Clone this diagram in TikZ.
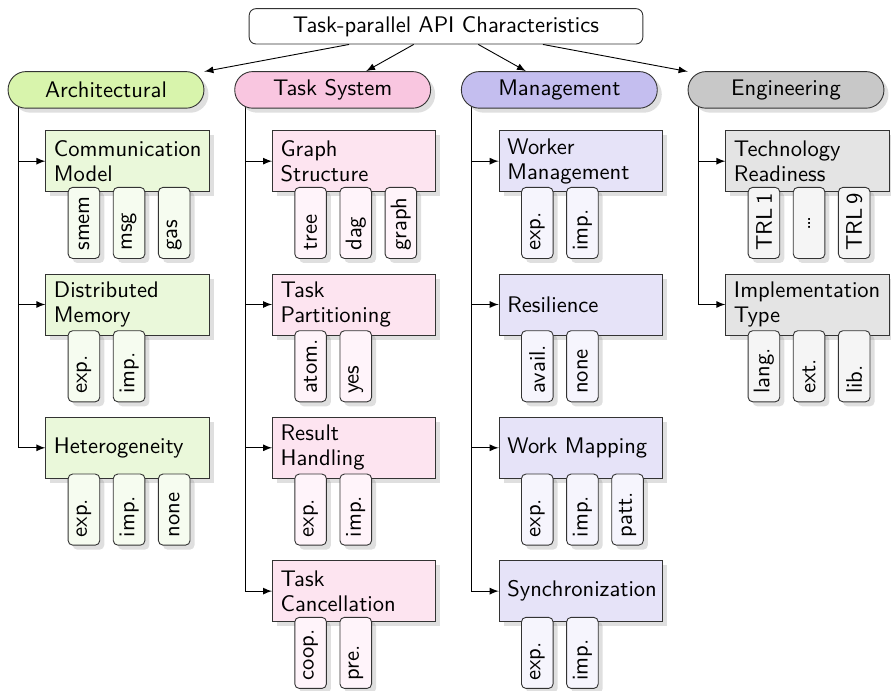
\documentclass[tikz,border=0pt]{standalone}
\usepackage{fontspec}
\usetikzlibrary{shadows,backgrounds}
\definecolor{archC}{HTML}{D8F4AC}
\definecolor{archF}{HTML}{EAF8DA}
\definecolor{archL}{HTML}{F6FCF0}
\definecolor{taskC}{HTML}{F9C6E0}
\definecolor{taskF}{HTML}{FDE4F0}
\definecolor{taskL}{HTML}{FFF4FA}
\definecolor{mgmtC}{HTML}{C4BEEF}
\definecolor{mgmtF}{HTML}{E6E3F8}
\definecolor{mgmtL}{HTML}{F6F5FD}
\definecolor{engC}{HTML}{C8C8C8}
\definecolor{engF}{HTML}{E4E4E4}
\definecolor{engL}{HTML}{F5F5F5}

\begin{document}
\begin{tikzpicture}[>=latex, font=\sffamily, node distance=2.232cm,
    shade/.style={drop shadow={shadow xshift=2pt, shadow yshift=-2pt, opacity=0.25}},
    root/.style={draw=black!80, rounded corners=3pt, minimum width=6.13cm, minimum height=0.53cm},
    cat/.style={draw=black!80, rounded corners=0.28cm, minimum width=3.05cm, minimum height=0.57cm, shade},
    feat/.style={draw=black!80, align=left, text width=2.29cm, inner xsep=3.6pt, minimum height=0.95cm,
      font=\sffamily\fontsize{10}{11}\selectfont, shade},
    leaf/.style={draw=black!80, rounded corners=2pt, rotate=90, align=left, text width=24.5pt,
      inner xsep=3.5pt, inner ysep=1pt, minimum height=14pt, shade},]
  \useasboundingbox (-6.946,0.41) rectangle (6.93,-10.336);
  \node[root] (root) at (0,0) {Task-parallel API Characteristics};
  \node[cat, fill=archC] (arch) at (-5.295,-0.99) {Architectural};
  \node[cat, fill=taskC] (tasks) at (-1.765,-0.99) {Task System};
  \node[cat, fill=mgmtC] (mgmt) at (1.765,-0.99) {Management};
  \node[cat, fill=engC] (eng) at (5.295,-0.99) {Engineering};
  \foreach \c in {arch,tasks,mgmt,eng}
    \draw[->] (root) -- (\c);

  \node[feat, fill=archF, below of=arch, xshift=0.335cm, node distance=1.11cm] (comm) {Communication\\Model};
  \node[feat, fill=archF, below of=comm] (distmem) {Distributed\\Memory};
  \node[feat, fill=archF, below of=distmem] (hetero) {Heterogeneity};
  \foreach \t [count=\i] in {smem,msg,gas}
    \node[leaf, fill=archL] (comm-\i) at ([shift={({0.703*\i-0.103},-0.48)}]comm.south west) {\t};
  \foreach \t [count=\i] in {exp.,imp.}
    \node[leaf, fill=archL] (distmem-\i) at ([shift={({0.703*\i-0.103},-0.48)}]distmem.south west) {\t};
  \foreach \t [count=\i] in {exp.,imp.,none}
    \node[leaf, fill=archL] (hetero-\i) at ([shift={({0.703*\i-0.103},-0.48)}]hetero.south west) {\t};

  \node[feat, fill=taskF, below of=tasks, xshift=0.335cm, node distance=1.11cm] (graph) {Graph\\Structure};
  \node[feat, fill=taskF, below of=graph] (part) {Task\\Partitioning};
  \node[feat, fill=taskF, below of=part] (result) {Result\\Handling};
  \node[feat, fill=taskF, below of=result] (cancel) {Task\\Cancellation};
  \foreach \t [count=\i] in {tree,dag,graph}
    \node[leaf, fill=taskL] (graph-\i) at ([shift={({0.703*\i-0.103},-0.48)}]graph.south west) {\t};
  \foreach \t [count=\i] in {atom.,yes}
    \node[leaf, fill=taskL] (part-\i) at ([shift={({0.703*\i-0.103},-0.48)}]part.south west) {\t};
  \foreach \t [count=\i] in {exp.,imp.}
    \node[leaf, fill=taskL] (result-\i) at ([shift={({0.703*\i-0.103},-0.48)}]result.south west) {\t};
  \foreach \t [count=\i] in {coop.,pre.}
    \node[leaf, fill=taskL] (cancel-\i) at ([shift={({0.703*\i-0.103},-0.48)}]cancel.south west) {\t};

  \node[feat, fill=mgmtF, below of=mgmt, xshift=0.335cm, node distance=1.11cm] (worker) {Worker\\Management};
  \node[feat, fill=mgmtF, below of=worker] (resil) {Resilience};
  \node[feat, fill=mgmtF, below of=resil] (mapping) {Work Mapping};
  \node[feat, fill=mgmtF, below of=mapping] (sync) {Synchronization};
  \foreach \t [count=\i] in {exp.,imp.}
    \node[leaf, fill=mgmtL] (worker-\i) at ([shift={({0.703*\i-0.103},-0.48)}]worker.south west) {\t};
  \foreach \t [count=\i] in {avail.,none}
    \node[leaf, fill=mgmtL] (resil-\i) at ([shift={({0.703*\i-0.103},-0.48)}]resil.south west) {\t};
  \foreach \t [count=\i] in {exp.,imp.,patt.}
    \node[leaf, fill=mgmtL] (mapping-\i) at ([shift={({0.703*\i-0.103},-0.48)}]mapping.south west) {\t};
  \foreach \t [count=\i] in {exp.,imp.}
    \node[leaf, fill=mgmtL] (sync-\i) at ([shift={({0.703*\i-0.103},-0.48)}]sync.south west) {\t};

  \node[feat, fill=engF, below of=eng, xshift=0.335cm, node distance=1.11cm] (trl) {Technology\\Readiness};
  \node[feat, fill=engF, below of=trl] (impl) {Implementation\\Type};
  \node[leaf, fill=engL] (trl-1) at ([shift={(0.6,-0.48)}]trl.south west) {TRL\,1};
  \node[leaf, fill=engL, align=center] (trl-2) at ([shift={(1.303,-0.48)}]trl.south west) {\dots};
  \node[leaf, fill=engL] (trl-3) at ([shift={(2.006,-0.48)}]trl.south west) {TRL\,9};
  \foreach \t [count=\i] in {lang.,ext.,lib.}
    \node[leaf, fill=engL] (impl-\i) at ([shift={({0.703*\i-0.103},-0.48)}]impl.south west) {\t};

  \begin{scope}[on background layer]
    \foreach \c/\f in {arch/comm,arch/distmem,arch/hetero,tasks/graph,tasks/part,tasks/result,tasks/cancel,
        mgmt/worker,mgmt/resil,mgmt/mapping,mgmt/sync,eng/trl,eng/impl}
      \draw[->] ([xshift=0.17cm]\c.west) |- (\f.west);
  \end{scope}
\end{tikzpicture}
\end{document}
